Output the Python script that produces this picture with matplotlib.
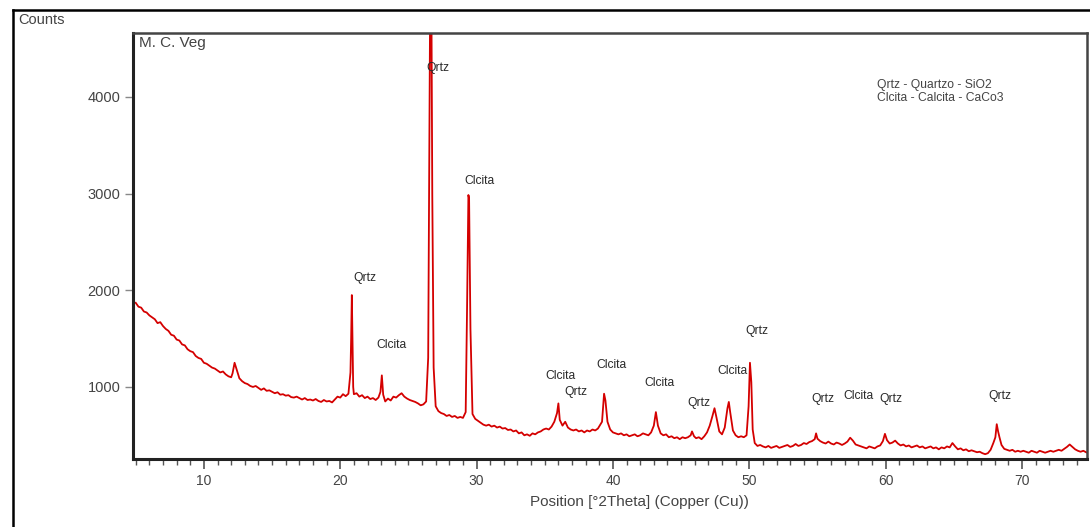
import matplotlib
matplotlib.use("Agg")
import matplotlib.pyplot as plt
from matplotlib.ticker import MultipleLocator
from matplotlib.lines import Line2D

plt.rcParams['font.family'] = ['Liberation Sans', 'DejaVu Sans']

# ---- data (2theta in degrees, intensity in counts)
two_theta = [
    5.0, 5.2, 5.4, 5.6, 5.8, 6.0, 6.2, 6.4, 6.6, 6.8, 7.0, 7.2, 7.4, 7.6, 7.8,
    8.0, 8.2, 8.4, 8.6, 8.8, 9.0, 9.2, 9.4, 9.6, 9.8, 10.0, 10.2, 10.4, 10.6, 10.8,
    11.0, 11.2, 11.4, 11.6, 11.8, 12.0, 12.1, 12.25, 12.4, 12.6, 12.8, 13.0, 13.2,
    13.4, 13.6, 13.8, 14.0, 14.2, 14.4, 14.6, 14.8, 15.0, 15.2, 15.4, 15.6, 15.8,
    16.0, 16.2, 16.4, 16.6, 16.8, 17.0, 17.2, 17.4, 17.6, 17.8, 18.0, 18.2, 18.4,
    18.6, 18.8, 19.0, 19.2, 19.4, 19.6, 19.8, 20.0, 20.2, 20.4, 20.6, 20.75, 20.8,
    20.85, 20.9, 20.95, 21.0, 21.2, 21.4, 21.6, 21.8, 22.0, 22.2, 22.4, 22.6, 22.8,
    22.95, 23.05, 23.15, 23.3, 23.5, 23.7, 23.9, 24.1, 24.3, 24.5, 24.7, 24.9, 25.1,
    25.3, 25.5, 25.7, 25.9, 26.1, 26.3, 26.45, 26.55, 26.62, 26.68, 26.75, 26.85,
    27.0, 27.2, 27.4, 27.6, 27.8, 28.0, 28.2, 28.4, 28.6, 28.8, 29.0, 29.2, 29.3,
    29.4, 29.45, 29.55, 29.7, 29.9, 30.1, 30.3, 30.5, 30.7, 30.9, 31.1, 31.3, 31.5,
    31.7, 31.9, 32.1, 32.3, 32.5, 32.7, 32.9, 33.1, 33.3, 33.5, 33.7, 33.9, 34.1,
    34.3, 34.5, 34.7, 34.9, 35.1, 35.3, 35.5, 35.7, 35.9, 36.0, 36.1, 36.3, 36.5,
    36.7, 36.9, 37.1, 37.3, 37.5, 37.7, 37.9, 38.1, 38.3, 38.5, 38.7, 38.9, 39.2,
    39.35, 39.45, 39.6, 39.8, 40.0, 40.2, 40.4, 40.6, 40.8, 41.0, 41.2, 41.4, 41.6,
    41.8, 42.0, 42.2, 42.4, 42.6, 42.8, 43.0, 43.15, 43.3, 43.5, 43.7, 43.9, 44.1,
    44.3, 44.5, 44.7, 44.9, 45.1, 45.3, 45.5, 45.7, 45.8, 45.95, 46.1, 46.3, 46.5,
    46.7, 46.9, 47.1, 47.3, 47.45, 47.6, 47.8, 48.0, 48.2, 48.4, 48.5, 48.6, 48.8,
    49.0, 49.2, 49.4, 49.6, 49.8, 49.95, 50.05, 50.15, 50.25, 50.4, 50.6, 50.8,
    51.0, 51.2, 51.4, 51.6, 51.8, 52.0, 52.2, 52.4, 52.6, 52.8, 53.0, 53.2, 53.4,
    53.6, 53.8, 54.0, 54.2, 54.4, 54.6, 54.8, 54.9, 55.0, 55.2, 55.4, 55.6, 55.8,
    56.0, 56.2, 56.4, 56.6, 56.8, 57.0, 57.2, 57.4, 57.6, 57.8, 58.0, 58.2, 58.4,
    58.6, 58.8, 59.0, 59.2, 59.4, 59.6, 59.8, 59.95, 60.1, 60.3, 60.5, 60.7, 60.9,
    61.1, 61.3, 61.5, 61.7, 61.9, 62.1, 62.3, 62.5, 62.7, 62.9, 63.1, 63.3, 63.5,
    63.7, 63.9, 64.1, 64.3, 64.5, 64.7, 64.9, 65.1, 65.3, 65.5, 65.7, 65.9, 66.1,
    66.3, 66.5, 66.7, 66.9, 67.1, 67.3, 67.5, 67.7, 67.9, 68.05, 68.15, 68.25,
    68.35, 68.5, 68.7, 68.9, 69.1, 69.3, 69.5, 69.7, 69.9, 70.1, 70.3, 70.5, 70.7,
    70.9, 71.1, 71.3, 71.5, 71.7, 71.9, 72.1, 72.3, 72.5, 72.7, 72.9, 73.1, 73.3,
    73.5, 73.7, 73.9, 74.1, 74.3, 74.5, 74.7, 74.8,
]
counts = [
    1870, 1830, 1820, 1780, 1770, 1740, 1720, 1700, 1660, 1670, 1630, 1600, 1580, 1540, 1530,
    1490, 1480, 1440, 1430, 1390, 1370, 1360, 1320, 1300, 1290, 1250, 1240, 1220, 1200, 1190,
    1170, 1150, 1160, 1130, 1110, 1100, 1140, 1250, 1180, 1090, 1060, 1040, 1030,
    1010, 1000, 1010, 990, 970, 985, 960, 965, 950, 935, 945, 920, 925,
    910, 915, 895, 890, 900, 885, 870, 885, 865, 870, 860, 875, 855,
    845, 865, 850, 855, 840, 870, 900, 890, 925, 905, 930, 1150, 1500,
    1950, 1500, 1000, 925, 935, 900, 915, 885, 900, 875, 885, 865, 890,
    950, 1120, 920, 850, 880, 860, 900, 890, 915, 935, 900, 880, 865,
    855, 845, 830, 810, 820, 850, 1300, 4000, 5600, 5200, 3000, 1200,
    800, 750, 730, 720, 700, 710, 690, 700, 680, 690, 680, 740, 1800,
    2985, 2950, 1600, 720, 670, 650, 630, 610, 600, 610, 590, 600, 580,
    590, 570, 575, 555, 560, 540, 550, 520, 530, 500, 510, 495, 520,
    510, 530, 540, 560, 570, 560, 590, 640, 730, 830, 660, 600, 640,
    580, 560, 550, 560, 540, 550, 530, 550, 540, 560, 550, 570, 640,
    930, 860, 640, 560, 530, 520, 510, 520, 500, 510, 490, 500, 510,
    490, 500, 520, 510, 500, 530, 600, 740, 600, 520, 500, 510, 480,
    490, 470, 480, 460, 480, 470, 480, 500, 540, 490, 470, 480, 460,
    490, 530, 600, 700, 780, 680, 540, 510, 580, 780, 845, 740, 550,
    500, 480, 490, 480, 500, 800, 1250, 1050, 560, 420, 390, 400,
    385, 375, 390, 370, 380, 390, 370, 380, 390, 400, 380, 390, 410,
    390, 400, 420, 410, 430, 440, 460, 520, 465, 440, 425, 415, 435,
    415, 405, 425, 415, 400, 415, 435, 475, 445, 405, 395, 385, 375,
    365, 385, 375, 365, 385, 395, 440, 515, 450, 415, 425, 445, 415,
    395, 405, 385, 395, 375, 385, 395, 375, 385, 365, 375, 385, 365,
    375, 355, 375, 365, 385, 375, 420, 385, 355, 365, 345, 355, 335,
    345, 335, 325, 330, 315, 305, 315, 350, 420, 480, 615, 540,
    480, 400, 360, 350, 340, 350, 330, 340, 330, 340, 330, 320, 340,
    330, 320, 340, 330, 320, 330, 340, 330, 340, 350, 340, 360, 380,
    405, 380, 355, 340, 330, 340, 325, 320,
]

x_ticks = [10, 20, 30, 40, 50, 60, 70]
y_ticks = [1000, 2000, 3000, 4000]

# peak annotations: (label, 2theta position, counts position)
peak_labels = ["Qrtz", "Clcita", "Qrtz", "Clcita", "Clcita", "Qrtz", "Clcita",
               "Clcita", "Qrtz", "Clcita", "Qrtz", "Qrtz", "Clcita", "Qrtz", "Qrtz"]
peak_x = [27.17, 30.25, 21.81, 23.79, 36.12, 37.29, 39.86,
          43.38, 46.32, 48.74, 50.57, 55.41, 57.98, 60.40, 68.40]
peak_y = [4300, 3131, 2128, 1434, 1114, 948, 1228,
          1041, 834, 1166, 1579, 876, 907, 876, 907]

legend_lines = ["Qrtz - Quartzo - SiO2", "Clcita - Calcita - CaCo3"]

# ---- figure
W, H = 1090, 527
fig = plt.figure(figsize=(W / 100, H / 100), dpi=100)
ax = fig.add_axes([133 / W, 1 - 459 / H, (1087 - 133) / W, (459 - 33) / H])

ax.plot(two_theta, counts, color="#d40000", lw=1.3)

ax.set_xlim(4.8, 74.77)
ax.set_ylim(255, 4660)
ax.set_xticks(x_ticks)
ax.set_yticks(y_ticks)
ax.xaxis.set_minor_locator(MultipleLocator(1))

txt_col = "#444444"
tick_col = "#555555"
ax.tick_params(axis="x", which="major", direction="out", length=7, width=1.2,
               color=tick_col, labelsize=10, labelcolor=txt_col, pad=4)
ax.tick_params(axis="x", which="minor", direction="out", length=4, width=1.0,
               color=tick_col)
ax.tick_params(axis="y", which="major", direction="out", length=6, width=1.0,
               color="#888888", labelsize=10.5, labelcolor=txt_col, pad=3)

for side in ("left", "bottom"):
    ax.spines[side].set_linewidth(2.2)
    ax.spines[side].set_color("#222222")
for side in ("top", "right"):
    ax.spines[side].set_linewidth(1.8)
    ax.spines[side].set_color("#444444")

ax.set_xlabel("Position [°2Theta] (Copper (Cu))", fontsize=11, color=txt_col)
ax.xaxis.set_label_coords((639 - 133) / (1087 - 133), -(502 - 459) / (459 - 33))
ax.xaxis.label.set_va("center")

for lab, px, py in zip(peak_labels, peak_x, peak_y):
    ax.text(px, py, lab, fontsize=8.7, color="#2a2a2a", ha="center", va="center")

ax.text(0.006, 0.994, "M. C. Veg", transform=ax.transAxes, fontsize=11,
        color=txt_col, ha="left", va="top")

ax.text(59.4, 4124, legend_lines[0], fontsize=8.7, color=txt_col,
        ha="left", va="center")
ax.text(59.4, 3990, legend_lines[1], fontsize=8.7, color=txt_col,
        ha="left", va="center")

fig.text(18 / W, 1 - 20 / H, "Counts", fontsize=10.5, color=txt_col,
         ha="left", va="center")

# outer frame (left and top edges visible)
fig.add_artist(Line2D([13 / W, 13 / W], [0, 1 - 10 / H], transform=fig.transFigure,
                      color="black", lw=1.8))
fig.add_artist(Line2D([13 / W, 1.0], [1 - 10 / H, 1 - 10 / H], transform=fig.transFigure,
                      color="black", lw=1.8))

fig.savefig("out.png", dpi=100, facecolor="white")
